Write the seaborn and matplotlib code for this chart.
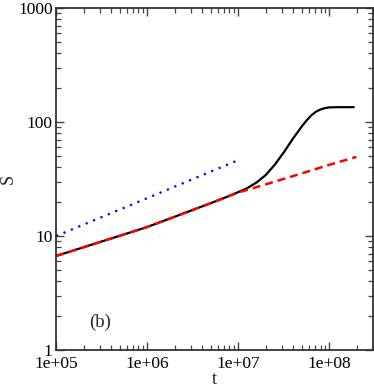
import numpy as np
import pandas as pd
import matplotlib
matplotlib.use("Agg")
import matplotlib.pyplot as plt
import matplotlib.ticker as mticker
import seaborn as sns

# --- data ---
t_black = [1e5, 2e5, 5e5, 1e6, 2e6, 5e6, 7e6, 1e7, 1.26e7, 1.585e7, 2.0e7, 2.51e7,
           3.16e7, 3.98e7, 5.01e7, 5.62e7, 6.31e7, 7.08e7, 7.94e7, 8.91e7, 1.0e8,
           1.26e8, 1.85e8]
S_black = [6.68, 7.97, 10.05, 12.0, 14.76, 19.45, 21.6, 24.3, 26.4, 29.5, 34.3, 42.2,
           54.3, 71.6, 92.3, 103.5, 114.3, 123.0, 128.8, 132.7, 134.6,
           135.2, 135.2]

t_red = [1e5, 2e5, 5e5, 1e6, 2e6, 5e6, 1e7, 2e7, 5e7, 1e8, 1.98e8]
S_red = [6.68, 7.97, 10.05, 12.0, 14.76, 19.45, 24.1, 28.4, 35.5, 42.2, 49.5]

t_blue = [1e5, 1e6, 1e7]
S_blue = [10.0, 21.5, 46.4]

x_ticks = [1e5, 1e6, 1e7, 1e8]
x_tick_labels = ["1e+05", "1e+06", "1e+07", "1e+08"]
y_ticks = [1, 10, 100, 1000]
y_tick_labels = ["1", "10", "100", "1000"]

sns.set_style("ticks")
plt.rcParams["font.family"] = ["Liberation Serif", "DejaVu Serif"]

fig = plt.figure(figsize=(3.74, 3.88), dpi=100)
ax = fig.add_axes([0.150, 0.098, 0.847, 0.881])

df_b = pd.DataFrame({"t": t_black, "S": S_black})
df_r = pd.DataFrame({"t": t_red, "S": S_red})
df_u = pd.DataFrame({"t": t_blue, "S": S_blue})

sns.lineplot(data=df_b, x="t", y="S", ax=ax, color="black", linewidth=1.6,
             estimator=None, sort=False)
sns.lineplot(data=df_r, x="t", y="S", ax=ax, color="#ff0000", linewidth=1.8,
             estimator=None, sort=False, linestyle=(0, (3.2, 2.0)))
sns.lineplot(data=df_u, x="t", y="S", ax=ax, color="#0000ff", linewidth=1.6,
             estimator=None, sort=False, linestyle=(0, (1, 2.6)))

ax.set_xscale("log")
ax.set_yscale("log")
ax.set_xlim(1e5, 3e8)
ax.set_ylim(1, 1000)

ax.set_xticks(x_ticks)
ax.set_xticklabels(x_tick_labels)
ax.set_yticks(y_ticks)
ax.set_yticklabels(y_tick_labels)
ax.xaxis.set_minor_locator(mticker.LogLocator(base=10, subs=np.arange(2, 10), numticks=20))
ax.yaxis.set_minor_locator(mticker.LogLocator(base=10, subs=np.arange(2, 10), numticks=20))
ax.xaxis.set_minor_formatter(mticker.NullFormatter())
ax.yaxis.set_minor_formatter(mticker.NullFormatter())

ax.tick_params(which="both", direction="in", top=True, right=True,
               labelsize=12.5, colors="black")
ax.tick_params(which="major", length=6, width=1.0, color="#444444")
ax.tick_params(axis="x", which="major", pad=4)
ax.tick_params(axis="y", which="major", pad=2.5)
ax.tick_params(which="minor", length=3.3, width=0.9, color="#444444")
for s in ax.spines.values():
    s.set_linewidth(1.3)
    s.set_color("#333333")

ax.set_xlabel("t", fontsize=13, labelpad=-0.5)
ax.set_ylabel("S", fontsize=13, labelpad=1)

ax.text(0.139, 0.082, "(b)", transform=ax.transAxes, fontsize=13.5,
        ha="center", va="center")

fig.savefig("out.png", dpi=100)
